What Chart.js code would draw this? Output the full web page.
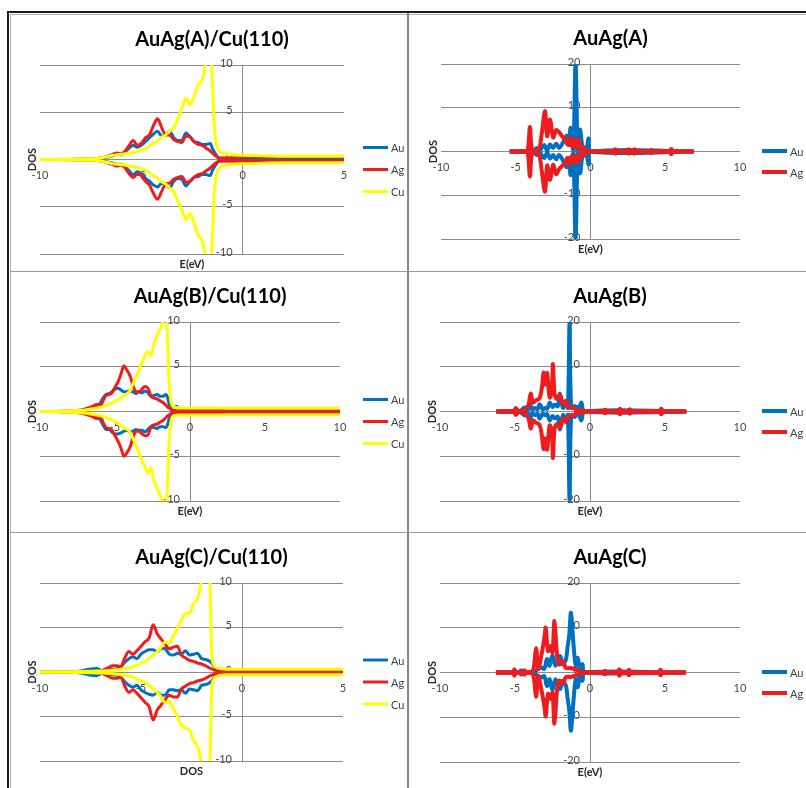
<!DOCTYPE html>
<html>
<head>
<meta charset="utf-8">
<script src="https://cdn.jsdelivr.net/npm/chart.js@4.4.0/dist/chart.umd.min.js"></script>
<style>
  body { margin: 0; background: #fff; }
  #page { position: relative; width: 806px; height: 788px; overflow: hidden; background: #fff; }
  #page canvas { position: absolute; }
  .rule { position: absolute; }
</style>
</head>
<body>
<div id="page">
  <div class="rule" style="left:7px;top:11px;width:799px;height:2px;background:#1e1e1e"></div>
  <div class="rule" style="left:7px;top:11px;width:2px;height:777px;background:#1e1e1e"></div>
  <div class="rule" style="left:10px;top:14px;width:796px;height:1px;background:#b4b4b4"></div>
  <div class="rule" style="left:10px;top:14px;width:1px;height:774px;background:#b4b4b4"></div>
  <div class="rule" style="left:407px;top:13px;width:2px;height:775px;background:#8a8a8a"></div>
  <div class="rule" style="left:10px;top:271px;width:796px;height:1px;background:#9a9a9a"></div>
  <div class="rule" style="left:10px;top:532px;width:796px;height:1px;background:#9a9a9a"></div>
  <canvas id="cA"></canvas>
  <canvas id="cAfree"></canvas>
  <canvas id="cB"></canvas>
  <canvas id="cBfree"></canvas>
  <canvas id="cC"></canvas>
  <canvas id="cCfree"></canvas>
</div>
<script>
// ---------- AuAg(A)/Cu(110) ----------
const energyA = [-10,-9,-8,-7.6,-7.2,-7,-6.8,-6.6,-6.4,-6.2,-6,-5.8,-5.6,-5.4,-5.2,-5,-4.8,-4.6,-4.4,-4.2,-4,-3.8,-3.6,-3.4,-3.2,-3,-2.8,-2.6,-2.4,-2.2,-2,-1.8,-1.6,-1.5,-1.4,-1.2,-1,-0.8,-0.5,0,1,2,3,4,5];
const auUpA = [0,0,0.02,0.05,0.08,0.1,0.2,0.3,0.4,0.55,0.5,0.8,1.2,1.5,1.3,1.5,1.9,2.3,2.7,3.0,2.5,2.6,3.0,2.3,2.0,2.0,2.8,2.4,1.9,1.8,1.6,1.6,1.7,1.2,0.8,0.2,0.12,0.12,0.12,0.12,0.12,0.1,0.1,0.1,0.1];
const auDnA = [0,0,-0.02,-0.05,-0.08,-0.1,-0.2,-0.3,-0.4,-0.5,-0.5,-0.8,-1.2,-1.6,-1.3,-1.5,-2.0,-2.3,-2.7,-2.9,-2.5,-2.6,-3.0,-2.3,-2.0,-2.1,-2.8,-2.3,-1.9,-1.8,-1.6,-1.6,-1.7,-1.2,-0.8,-0.2,-0.12,-0.12,-0.12,-0.12,-0.12,-0.1,-0.1,-0.1,-0.1];
const agUpA = [0,0,0.03,0.05,0.1,0.15,0.25,0.4,0.55,0.7,0.6,0.9,1.5,2.0,1.5,1.7,2.3,2.6,3.6,4.3,3.4,2.6,2.6,2.1,1.9,1.8,2.5,2.4,1.9,1.6,1.5,1.2,0.9,0.7,0.5,0.2,0.15,0.15,0.18,0.2,0.2,0.2,0.2,0.2,0.2];
const agDnA = [0,0,-0.03,-0.05,-0.1,-0.15,-0.25,-0.4,-0.55,-0.7,-0.6,-0.9,-1.5,-1.9,-1.5,-1.7,-2.3,-2.7,-3.6,-4.2,-3.4,-2.6,-2.5,-2.1,-1.9,-1.8,-2.4,-2.3,-1.9,-1.6,-1.5,-1.2,-0.9,-0.7,-0.5,-0.2,-0.15,-0.15,-0.18,-0.2,-0.2,-0.2,-0.2,-0.2,-0.2];
const cuUpA = [0,0.02,0.05,0.08,0.1,0.15,0.25,0.35,0.45,0.5,0.55,0.6,0.7,0.75,0.85,1.0,1.15,1.4,1.7,2.0,2.35,2.6,3.0,3.4,4.3,5.4,6.5,5.8,6.6,7.9,8.4,10.5,12,8.5,3.5,1.0,0.7,0.6,0.5,0.45,0.4,0.35,0.35,0.35,0.35];
const cuDnA = [0,-0.02,-0.05,-0.08,-0.1,-0.15,-0.25,-0.35,-0.45,-0.5,-0.55,-0.6,-0.7,-0.75,-0.85,-1.0,-1.15,-1.4,-1.7,-2.0,-2.35,-2.6,-3.0,-3.4,-4.4,-5.3,-6.4,-5.7,-6.7,-8.0,-8.6,-10.5,-12,-8.5,-3.5,-1.0,-0.7,-0.6,-0.5,-0.45,-0.4,-0.35,-0.35,-0.35,-0.35];

// ---------- AuAg(B)/Cu(110) ----------
const energyB = [-10,-9,-8,-7.6,-7.2,-7,-6.8,-6.6,-6.4,-6.2,-6,-5.8,-5.6,-5.4,-5.2,-5,-4.8,-4.6,-4.4,-4.2,-4,-3.8,-3.6,-3.4,-3.2,-3,-2.8,-2.6,-2.4,-2.2,-2,-1.8,-1.6,-1.5,-1.4,-1.2,-1,-0.8,-0.5,0,1,2,3,4,5,6,7,8,9,10];
const auUpB = [0,0,0.03,0.06,0.1,0.15,0.25,0.35,0.5,0.7,0.9,1.5,1.9,2.0,2.2,2.5,2.6,2.4,2.2,2.2,2.3,2.2,2.0,2.2,2.1,2.3,2.1,1.7,1.8,1.9,1.7,1.7,1.9,1.6,0.9,0.2,0.1,0.1,0.1,0.1,0.1,0.1,0.1,0.1,0.1,0.1,0.1,0.1,0.1,0.1];
const auDnB = [0,0,-0.03,-0.06,-0.1,-0.15,-0.25,-0.35,-0.5,-0.7,-0.9,-1.5,-2.0,-2.0,-2.3,-2.5,-2.5,-2.4,-2.2,-2.1,-2.3,-2.2,-2.0,-2.1,-2.1,-2.3,-2.0,-1.7,-1.8,-1.9,-1.7,-1.7,-1.8,-1.5,-0.9,-0.2,-0.1,-0.1,-0.1,-0.1,-0.1,-0.1,-0.1,-0.1,-0.1,-0.1,-0.1,-0.1,-0.1,-0.1];
const agUpB = [0,0,0.05,0.1,0.2,0.3,0.4,0.5,0.65,0.8,0.5,1.2,1.8,1.9,2.1,2.7,3.3,4.2,5.1,4.6,4.0,2.9,2.2,2.2,2.5,2.8,2.6,1.7,1.5,1.4,1.2,1.0,0.7,0.5,0.4,0.15,0.1,0.1,0.1,0.15,0.15,0.15,0.15,0.15,0.15,0.15,0.15,0.15,0.15,0.15];
const agDnB = [0,0,-0.05,-0.1,-0.2,-0.3,-0.4,-0.5,-0.65,-0.8,-0.5,-1.2,-1.8,-1.9,-2.1,-2.7,-3.3,-4.1,-5.0,-4.6,-4.0,-2.9,-2.2,-2.2,-2.5,-2.7,-2.6,-1.7,-1.5,-1.4,-1.2,-1.0,-0.7,-0.5,-0.4,-0.15,-0.1,-0.1,-0.1,-0.15,-0.15,-0.15,-0.15,-0.15,-0.15,-0.15,-0.15,-0.15,-0.15,-0.15];
const cuUpB = [0,0.02,0.08,0.1,0.15,0.18,0.22,0.28,0.32,0.4,0.45,0.55,0.65,0.8,0.95,1.1,1.3,1.55,1.8,2.0,2.3,3.1,3.9,4.6,5.5,6.3,6.7,6.2,7.6,8.5,9.2,10.1,11.5,8,3.5,0.7,0.45,0.4,0.4,0.4,0.4,0.4,0.35,0.35,0.35,0.35,0.35,0.35,0.35,0.35];
const cuDnB = [0,-0.02,-0.08,-0.1,-0.15,-0.18,-0.22,-0.28,-0.32,-0.4,-0.45,-0.55,-0.65,-0.8,-0.95,-1.1,-1.3,-1.55,-1.8,-2.0,-2.3,-3.0,-3.8,-4.6,-5.5,-6.2,-6.9,-6.3,-7.7,-8.6,-9.4,-10.2,-11.5,-8,-3.5,-0.7,-0.45,-0.4,-0.4,-0.4,-0.4,-0.4,-0.35,-0.35,-0.35,-0.35,-0.35,-0.35,-0.35,-0.35];

// ---------- AuAg(C)/Cu(110) ----------
const energyC = [-10,-9,-8,-7.6,-7.2,-7,-6.8,-6.6,-6.4,-6.2,-6,-5.8,-5.6,-5.4,-5.2,-5,-4.8,-4.6,-4.4,-4.2,-4,-3.8,-3.6,-3.4,-3.2,-3,-2.8,-2.6,-2.4,-2.2,-2,-1.8,-1.6,-1.5,-1.4,-1.2,-1,-0.8,-0.5,0,1,2,3,4,5];
const auUpC = [0,0,0.1,0.3,0.4,0.2,0.15,0.2,0.3,0.35,0.6,1.1,1.5,1.7,1.5,2.0,2.3,2.5,2.5,2.3,2.7,2.6,2.0,1.9,2.1,2.0,2.4,1.9,2.0,2.1,1.5,1.4,1.2,1.0,0.7,0.25,0.1,0.1,0.1,0.1,0.1,0.1,0.1,0.1,0.1];
const auDnC = [0,0,-0.1,-0.3,-0.4,-0.2,-0.15,-0.2,-0.3,-0.35,-0.6,-1.1,-1.5,-1.7,-1.5,-2.0,-2.3,-2.5,-2.6,-2.3,-2.6,-2.6,-2.0,-2.0,-2.1,-2.0,-2.4,-1.9,-2.0,-2.1,-1.5,-1.4,-1.2,-1.0,-0.7,-0.25,-0.1,-0.1,-0.1,-0.1,-0.1,-0.1,-0.1,-0.1,-0.1];
const agUpC = [0,0,0,0.02,0.05,0.1,0.3,0.5,0.7,0.7,0.6,1.6,2.3,2.0,2.4,2.9,3.4,3.8,5.3,4.3,3.7,3.1,2.6,2.8,2.9,1.9,1.6,1.3,1.2,1.0,0.9,0.7,0.45,0.35,0.25,0.1,0.1,0.12,0.12,0.12,0.12,0.12,0.12,0.12,0.12];
const agDnC = [0,0,0,-0.02,-0.05,-0.1,-0.3,-0.5,-0.7,-0.7,-0.6,-1.6,-2.3,-2.0,-2.4,-2.9,-3.4,-3.9,-5.4,-4.3,-3.7,-3.1,-2.6,-2.8,-2.8,-1.9,-1.6,-1.3,-1.2,-1.0,-0.9,-0.7,-0.45,-0.35,-0.25,-0.1,-0.1,-0.12,-0.12,-0.12,-0.12,-0.12,-0.12,-0.12,-0.12];
const cuUpC = [0,0.02,0.05,0.08,0.1,0.12,0.13,0.15,0.2,0.25,0.3,0.38,0.45,0.55,0.75,1.0,1.2,1.5,1.9,2.3,2.8,3.4,3.2,4.1,4.9,5.9,6.6,6.6,7.7,8.2,10.2,12,10.5,2.0,0.8,0.45,0.35,0.3,0.3,0.3,0.3,0.3,0.3,0.3,0.3];
const cuDnC = [0,-0.02,-0.05,-0.08,-0.1,-0.12,-0.13,-0.15,-0.2,-0.25,-0.3,-0.38,-0.45,-0.55,-0.75,-1.0,-1.2,-1.5,-1.9,-2.3,-2.8,-3.5,-3.3,-4.1,-5.0,-6.0,-6.3,-6.5,-7.7,-8.4,-10.2,-12,-10.5,-2.0,-0.8,-0.45,-0.35,-0.3,-0.3,-0.3,-0.3,-0.3,-0.3,-0.3,-0.3];

// ---------- AuAg(A) free cluster ----------
const energyAuA = [-5.4,-4.3,-4.05,-3.85,-3.6,-3.4,-3.1,-2.9,-2.7,-2.5,-2.3,-2.1,-1.85,-1.6,-1.45,-1.33,-1.15,-1.0,-0.85,-0.7,-0.5,-0.3,-0.12,0.05,6.9];
const auUpAfree = [0,0,1.0,0,0.8,0.2,1.5,0.3,1.6,0.8,1.8,0.8,2.0,3.6,1.5,5.4,0.5,20,0.5,5.0,0.3,0.2,3.0,0,0];
const auDnAfree = [0,0,-1.0,0,-0.8,-0.2,-1.5,-0.3,-1.6,-0.8,-1.8,-0.8,-2.0,-3.6,-1.5,-5.4,-0.5,-20,-0.5,-5.0,-0.3,-0.2,-3.0,0,0];
const energyAgA = [-5.4,-4.4,-4.2,-4.05,-3.9,-3.6,-3.4,-3.27,-3.04,-2.9,-2.7,-2.5,-2.3,-2.1,-1.9,-1.7,-1.55,-1.4,-1.25,-1.1,-0.95,-0.8,-0.65,-0.45,-0.3,0,1.5,1.65,1.8,2.4,2.55,2.7,2.8,2.95,3.1,3.9,4.05,4.2,5.25,5.4,5.55,6.9];
const agUpAfree = [0,0,0.3,5.6,0.3,0.2,1.0,3.9,9.2,3.5,7.3,3.2,4.9,4.4,3.5,2.8,1.6,3.1,1.2,2.8,0.8,2.8,0.5,1.0,0,0,0,0.5,0,0,0.5,0,0,0.5,0,0,0.35,0,0,0.6,0,0];
const agDnAfree = [0,0,-0.3,-5.7,-0.3,-0.3,-1.2,-4.2,-9.2,-3.2,-6.5,-3.0,-5.2,-4.0,-3.3,-2.6,-1.5,-3.0,-1.0,-2.6,-0.8,-2.5,-0.5,-1.0,0,0,0,-0.5,0,0,-0.5,0,0,-0.5,0,0,-0.35,0,0,-0.6,0,0];

// ---------- AuAg(B) free cluster ----------
const energyAuB = [-6.24,-5.1,-4.9,-4.7,-4.36,-4.15,-4.0,-3.85,-3.69,-3.5,-3.36,-3.15,-3.0,-2.85,-2.69,-2.5,-2.36,-2.15,-2.0,-1.8,-1.58,-1.47,-1.36,-1.25,-1.0,-0.8,-0.58,-0.35,6.42];
const auUpBfree = [0,0,0.5,0,0.9,0.3,1.6,0.4,0.8,0.5,1.6,0.5,0.8,0.6,2.0,1.0,1.5,1.2,4.0,0.8,2.4,0.8,19.9,0.8,1.2,0,2.0,0,0];
const auDnBfree = [0,0,-0.5,0,-0.9,-0.3,-1.6,-0.4,-0.8,-0.5,-1.6,-0.5,-0.8,-0.6,-2.0,-1.0,-1.5,-1.2,-4.0,-0.8,-2.4,-0.8,-19.9,-0.8,-1.2,0,-2.0,0,0];
const energyAgB = [-6.24,-5.1,-4.95,-4.8,-4.45,-4.3,-4.1,-3.95,-3.8,-3.6,-3.36,-3.2,-3.1,-2.98,-2.86,-2.69,-2.55,-2.47,-2.36,-2.2,-2.05,-1.95,-1.8,-1.6,-1.4,-1.15,-0.9,-0.5,-0.2,0.85,1.0,1.15,1.85,2.0,2.15,2.5,2.65,2.8,4.6,4.75,4.9,6.42];
const agUpBfree = [0,0,0.8,0,0,0.6,1.5,4.0,2.0,2.5,3.0,5.5,8.7,6.0,8.6,3.1,4.5,10.6,3.9,2.8,3.6,3.3,1.6,2.4,0.9,1.0,0.3,0.3,0,0,0.4,0,0,0.6,0,0,0.5,0,0,0.6,0,0];
const agDnBfree = [0,0,-0.8,0,0,-0.6,-1.5,-3.8,-2.0,-2.5,-3.0,-5.6,-8.4,-6.0,-8.5,-3.1,-4.5,-10.4,-3.8,-2.8,-3.5,-3.2,-1.6,-2.4,-0.9,-1.0,-0.3,-0.3,0,0,-0.4,0,0,-0.6,0,0,-0.5,0,0,-0.6,0,0];

// ---------- AuAg(C) free cluster ----------
const energyAuC = [-6.27,-5.15,-5.04,-4.93,-4.7,-4.6,-4.5,-3.7,-3.27,-3.05,-2.87,-2.7,-2.5,-2.3,-2.0,-1.82,-1.6,-1.5,-1.38,-1.27,-1.1,-0.95,-0.82,-0.65,-0.5,-0.35,6.4];
const auUpCfree = [0,0,0.5,0,0,0.5,0,0.3,1.1,0.8,3.0,1.5,3.9,1.5,3.7,1.85,3.0,5.6,8.5,13.3,6.3,1.5,3.3,0.4,1.85,0,0];
const auDnCfree = [0,0,-0.5,0,0,-0.5,0,-0.3,-1.1,-0.8,-3.0,-1.5,-3.9,-1.5,-3.7,-1.85,-3.0,-5.6,-8.5,-13.0,-6.3,-1.5,-3.3,-0.4,-1.85,0,0];
const energyAgC = [-6.27,-5.15,-5.04,-4.93,-4.47,-4.37,-4.27,-3.82,-3.6,-3.45,-3.27,-3.04,-2.95,-2.8,-2.64,-2.5,-2.37,-2.19,-2.05,-1.82,-1.6,-1.3,-0.6,-0.4,0.85,1.0,1.15,1.8,1.95,2.1,2.45,2.6,2.75,4.55,4.7,4.85,6.4];
const agUpCfree = [0,0,0.7,0,0,0.5,0,0.3,5.4,0.8,3.3,7.8,10,4.8,5.9,4.5,11.5,3.7,1.8,2.6,1.0,1.0,0.2,0,0,0.4,0,0,0.7,0,0,0.6,0,0,0.6,0,0];
const agDnCfree = [0,0,-0.7,0,0,-0.5,0,-0.3,-5.4,-0.8,-3.3,-7.6,-9.8,-4.8,-5.9,-4.5,-11.4,-3.7,-1.8,-2.6,-1.0,-1.0,-0.2,0,0,-0.4,0,0,-0.7,0,0,-0.6,0,0,-0.6,0,0];

const COLORS = { Au: '#0070c0', Ag: '#ee1c1c', Cu: '#ffff00' };
const ORDER = { Au: 3, Ag: 2, Cu: 1 };
const GRID = '#8c8c8c';

const panels = [
  { canvas: 'cA', title: 'AuAg(A)/Cu(110)', xTitle: 'E(eV)', box: [10, 14, 397, 256], area: [40, 65, 344, 254],
    xMax: 5, yMax: 10, yStep: 5, width: 3, smooth: true, rowGap: 22,
    series: [['Au', energyA, auUpA, auDnA], ['Ag', energyA, agUpA, agDnA], ['Cu', energyA, cuUpA, cuDnA]] },
  { canvas: 'cAfree', title: 'AuAg(A)', xTitle: 'E(eV)', box: [409, 14, 397, 256], area: [441, 64, 740, 239],
    xMax: 10, yMax: 20, yStep: 10, width: 4, smooth: false, rowGap: 21,
    series: [['Au', energyAuA, auUpAfree, auDnAfree], ['Ag', energyAgA, agUpAfree, agDnAfree]] },
  { canvas: 'cB', title: 'AuAg(B)/Cu(110)', xTitle: 'E(eV)', box: [10, 272, 397, 260], area: [40, 322, 340, 501],
    xMax: 10, yMax: 10, yStep: 5, width: 3, smooth: true, rowGap: 22,
    series: [['Au', energyB, auUpB, auDnB], ['Ag', energyB, agUpB, agDnB], ['Cu', energyB, cuUpB, cuDnB]] },
  { canvas: 'cBfree', title: 'AuAg(B)', xTitle: 'E(eV)', box: [409, 272, 397, 260], area: [440, 322, 740, 501],
    xMax: 10, yMax: 20, yStep: 10, width: 4, smooth: false, rowGap: 21,
    series: [['Au', energyAuB, auUpBfree, auDnBfree], ['Ag', energyAgB, agUpBfree, agDnBfree]] },
  { canvas: 'cC', title: 'AuAg(C)/Cu(110)', xTitle: 'DOS', box: [10, 534, 397, 254], area: [40, 583, 343, 761],
    xMax: 5, yMax: 10, yStep: 5, width: 3, smooth: true, rowGap: 22,
    series: [['Au', energyC, auUpC, auDnC], ['Ag', energyC, agUpC, agDnC], ['Cu', energyC, cuUpC, cuDnC]] },
  { canvas: 'cCfree', title: 'AuAg(C)', xTitle: 'E(eV)', box: [409, 534, 397, 254], area: [440, 583, 740, 762],
    xMax: 10, yMax: 20, yStep: 10, width: 4, smooth: false, rowGap: 21,
    series: [['Au', energyAuC, auUpCfree, auDnCfree], ['Ag', energyAgC, agUpCfree, agDnCfree]] }
];

// excel-like axes crossing at zero, title and legend
const decor = {
  id: 'decor',
  beforeDatasetsDraw(chart, args, o) {
    const { ctx, scales: { x, y } } = chart;
    const x0 = x.getPixelForValue(0), y0 = y.getPixelForValue(0);
    ctx.save();
    ctx.font = '11px Lato';
    ctx.fillStyle = '#474747';
    ctx.textBaseline = 'middle';
    ctx.textAlign = 'center';
    x.ticks.forEach(t => ctx.fillText(String(t.value), x.getPixelForValue(t.value), y0 + 16));
    ctx.textAlign = 'right';
    y.ticks.forEach(t => ctx.fillText(String(t.value), x0 - 10, y.getPixelForValue(t.value) - 2));
    ctx.restore();
  },
  afterDraw(chart, args, o) {
    const { ctx, chartArea: a, scales: { y } } = chart;
    const y0 = y.getPixelForValue(0);
    const cx = (a.left + a.right) / 2;
    ctx.save();
    ctx.fillStyle = '#000';
    ctx.textAlign = 'center';
    ctx.textBaseline = 'middle';
    ctx.font = 'bold 20px Lato';
    ctx.fillText(o.title, cx + 20, a.top - 25);
    ctx.font = 'bold 11px Lato';
    ctx.fillStyle = '#262626';
    ctx.fillText(o.xTitle, cx, a.bottom + 10);
    ctx.save();
    ctx.translate(a.left - 8, y0);
    ctx.rotate(-Math.PI / 2);
    ctx.fillText('DOS', 0, 0);
    ctx.restore();
    // legend
    ctx.font = '11px Lato';
    ctx.fillStyle = '#404040';
    ctx.textAlign = 'left';
    const n = o.names.length;
    o.names.forEach((name, i) => {
      const ly = y0 + 10 + (i - (n - 1) / 2) * o.rowGap;
      ctx.strokeStyle = COLORS[name];
      ctx.lineWidth = o.lineWidth;
      ctx.beginPath();
      ctx.moveTo(353, ly);
      ctx.lineTo(378, ly);
      ctx.stroke();
      ctx.fillText(name, 381, ly + 1);
    });
    ctx.restore();
  }
};

panels.forEach(p => {
  const [bx, by, bw, bh] = p.box;
  const [l, t, r, b] = p.area;
  const el = document.getElementById(p.canvas);
  el.width = bw; el.height = bh;
  el.style.left = bx + 'px'; el.style.top = by + 'px';

  const datasets = [];
  p.series.forEach(([name, energy, up, dn]) => {
    [up, dn].forEach(vals => {
      datasets.push({
        label: name,
        data: energy.map((e, i) => ({ x: e, y: vals[i] })),
        showLine: true,
        borderColor: COLORS[name],
        borderWidth: p.width,
        pointRadius: 0,
        cubicInterpolationMode: p.smooth ? 'monotone' : 'default',
        tension: p.smooth ? 0 : 0.35,
        order: ORDER[name],
        clip: 0
      });
    });
  });

  new Chart(el, {
    type: 'scatter',
    data: { datasets },
    options: {
      responsive: false,
      animation: false,
      layout: { padding: { left: l - bx, top: t - by, right: bx + bw - r, bottom: by + bh - b } },
      plugins: {
        legend: { display: false },
        tooltip: { enabled: false },
        decor: { title: p.title, xTitle: p.xTitle, names: p.series.map(s => s[0]),
                 rowGap: p.rowGap, lineWidth: p.width }
      },
      scales: {
        x: {
          type: 'linear', min: -10, max: p.xMax,
          ticks: { display: false, stepSize: 5 },
          grid: { drawTicks: false, color: c => (c.tick && c.tick.value === 0) ? GRID : 'rgba(0,0,0,0)' },
          border: { display: false }
        },
        y: {
          type: 'linear', min: -p.yMax, max: p.yMax,
          ticks: { display: false, stepSize: p.yStep },
          grid: { drawTicks: false, color: GRID },
          border: { display: false }
        }
      }
    },
    plugins: [decor]
  });
});
</script>
</body>
</html>
